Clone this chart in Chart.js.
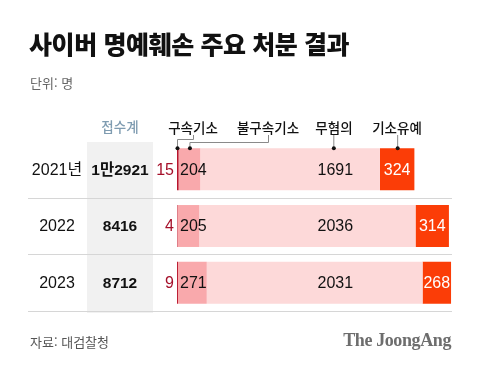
<!DOCTYPE html>
<html lang="ko">
  <head>
    <meta charset="UTF-8" />
    <title>사이버 명예훼손 주요 처분 결과</title>
    <script src="https://cdn.jsdelivr.net/npm/chart.js"></script>
    <style>
      body {
        margin: 0;
        padding: 0;
        background-color: #fff;
        font-family: "Liberation Sans", "Noto Sans CJK KR", sans-serif;
      }
      .page {
        position: relative;
        width: 480px;
        height: 368px;
        overflow: hidden;
      }
      #chart {
        position: absolute;
        left: 0;
        top: 0;
      }
      .title {
        position: absolute;
        left: 29px;
        top: 27px;
        margin: 0;
        font-family: "Noto Sans CJK KR", sans-serif;
        font-size: 25px;
        font-weight: 900;
        letter-spacing: -0.4px;
        line-height: 32px;
        color: #111;
      }
      .unit {
        position: absolute;
        left: 30px;
        top: 73px;
        font-family: "Noto Sans CJK KR", sans-serif;
        font-size: 13px;
        color: #666;
      }
      .source {
        position: absolute;
        left: 30px;
        top: 332px;
        font-family: "Noto Sans CJK KR", sans-serif;
        font-size: 13px;
        color: #555;
      }
      .logo {
        position: absolute;
        right: 29px;
        top: 330px;
        font-family: "Liberation Serif", serif;
        font-weight: 700;
        font-size: 18px;
        letter-spacing: -0.4px;
        color: #6d6d6d;
      }
    </style>
  </head>
  <body>
    <div class="page">
      <canvas id="chart" width="480" height="368"></canvas>
      <h1 class="title">사이버 명예훼손 주요 처분 결과</h1>
      <div class="unit">단위: 명</div>
      <div class="source">자료: 대검찰청</div>
      <div class="logo">The JoongAng</div>
    </div>

    <script>
      // data
      const years = ["2021년", "2022", "2023"];
      const totals = ["1만2921", "8416", "8712"];
      const series = ["구속기소", "불구속기소", "무혐의", "기소유예"];
      const detained = [15, 4, 9];
      const indicted = [204, 205, 271];
      const cleared = [1691, 2036, 2031];
      const suspended = [324, 314, 268];
      const colors = ["#b8142c", "#f9a9ac", "#fdd9d9", "#fb3d07"];

      const numFont = '"Liberation Sans", "Noto Sans CJK KR", sans-serif';
      const krFont = '"Noto Sans CJK KR", sans-serif';

      // where the 무혐의 numbers sit, in data units
      const clearedLabelAt = 1490;
      // legend label centres (px)
      const legendX = [193, 268, 334, 397];

      const tablePlugin = {
        id: "table",
        beforeDatasetsDraw(chart) {
          const c = chart.ctx;
          const area = chart.chartArea;
          const y = chart.scales.y;
          c.save();
          // grey band behind totals
          c.fillStyle = "#f1f1f1";
          c.fillRect(87, area.top + 1, 66, area.bottom - area.top + 1);
          // row separators
          c.strokeStyle = "#d6d6d6";
          c.lineWidth = 1;
          years.forEach((_, i) => {
            const yy = Math.round(y.getPixelForValue(i) + (area.bottom - area.top) / years.length / 2) + 0.5;
            c.beginPath();
            c.moveTo(28, yy);
            c.lineTo(452, yy);
            c.stroke();
          });
          c.restore();
        },
        afterDatasetsDraw(chart) {
          const c = chart.ctx;
          const x = chart.scales.x;
          const metas = [0, 1, 2, 3].map((i) => chart.getDatasetMeta(i));
          c.save();
          c.textBaseline = "middle";

          // header
          c.font = "500 13.5px " + krFont;
          c.fillStyle = "#7f9cb1";
          c.textAlign = "center";
          c.fillText("접수계", 120, 127);
          c.fillStyle = "#111";
          series.forEach((s, i) => c.fillText(s, legendX[i], 128));

          // rows
          years.forEach((yr, i) => {
            const bars = metas.map((m) => m.data[i]);
            const cy = bars[0].y + 1;
            c.textAlign = "center";
            c.fillStyle = "#111";
            c.font = "16px " + numFont;
            c.fillText(yr, 57, cy);
            c.font = "bold 15.5px " + numFont;
            c.fillText(totals[i], 120, cy);

            c.font = "16px " + numFont;
            c.textAlign = "right";
            c.fillStyle = "#a5102a";
            c.fillText(String(detained[i]), bars[0].base - 3, cy);
            c.textAlign = "left";
            c.fillStyle = "#111";
            c.fillText(String(indicted[i]), bars[0].base + 3, cy);
            c.textAlign = "center";
            c.fillText(String(cleared[i]), x.getPixelForValue(clearedLabelAt), cy);
            c.fillStyle = "#fff";
            c.fillText(String(suspended[i]), (bars[3].x + bars[3].base) / 2, cy);
          });

          // leader lines from the legend to the first row
          const first = metas.map((m) => m.data[0]);
          const top = first[0].y - first[0].height / 2;
          const dots = [
            first[0].base,
            (first[1].x + first[1].base) / 2,
            x.getPixelForValue(clearedLabelAt) - 2,
            (first[3].x + first[3].base) / 2,
          ];
          c.strokeStyle = "#8a8a8a";
          c.lineWidth = 1;
          const path = (pts) => {
            c.beginPath();
            pts.forEach((p, k) => (k ? c.lineTo(p[0], p[1]) : c.moveTo(p[0], p[1])));
            c.stroke();
          };
          path([[dots[0] + 0.5, top], [dots[0] + 0.5, 139.5], [legendX[0] + 0.5, 139.5], [legendX[0] + 0.5, 135]]);
          path([[dots[1] + 0.5, top], [dots[1] + 0.5, 142.5], [legendX[1] + 0.5, 142.5], [legendX[1] + 0.5, 135]]);
          path([[dots[2] + 0.5, top], [dots[2] + 0.5, 135]]);
          path([[dots[3] + 0.5, top], [dots[3] + 0.5, 135]]);
          c.fillStyle = "#111";
          dots.forEach((d) => {
            c.beginPath();
            c.arc(d + 0.5, top, 2, 0, Math.PI * 2);
            c.fill();
          });
          c.restore();
        },
      };

      const ctx = document.getElementById("chart").getContext("2d");
      new Chart(ctx, {
        type: "bar",
        data: {
          labels: years,
          datasets: [detained, indicted, cleared, suspended].map((d, i) => ({
            label: series[i],
            data: d,
            backgroundColor: colors[i],
            borderWidth: 0,
            barPercentage: 0.74,
            categoryPercentage: 1,
          })),
        },
        options: {
          indexAxis: "y",
          responsive: false,
          animation: false,
          devicePixelRatio: 1,
          layout: { padding: { left: 177, right: 28, top: 141, bottom: 57 } },
          scales: {
            x: { stacked: true, min: 0, max: 2588, display: false },
            y: { stacked: true, display: false },
          },
          plugins: { legend: { display: false }, tooltip: { enabled: false } },
        },
        plugins: [tablePlugin],
      });
    </script>
  </body>
</html>
